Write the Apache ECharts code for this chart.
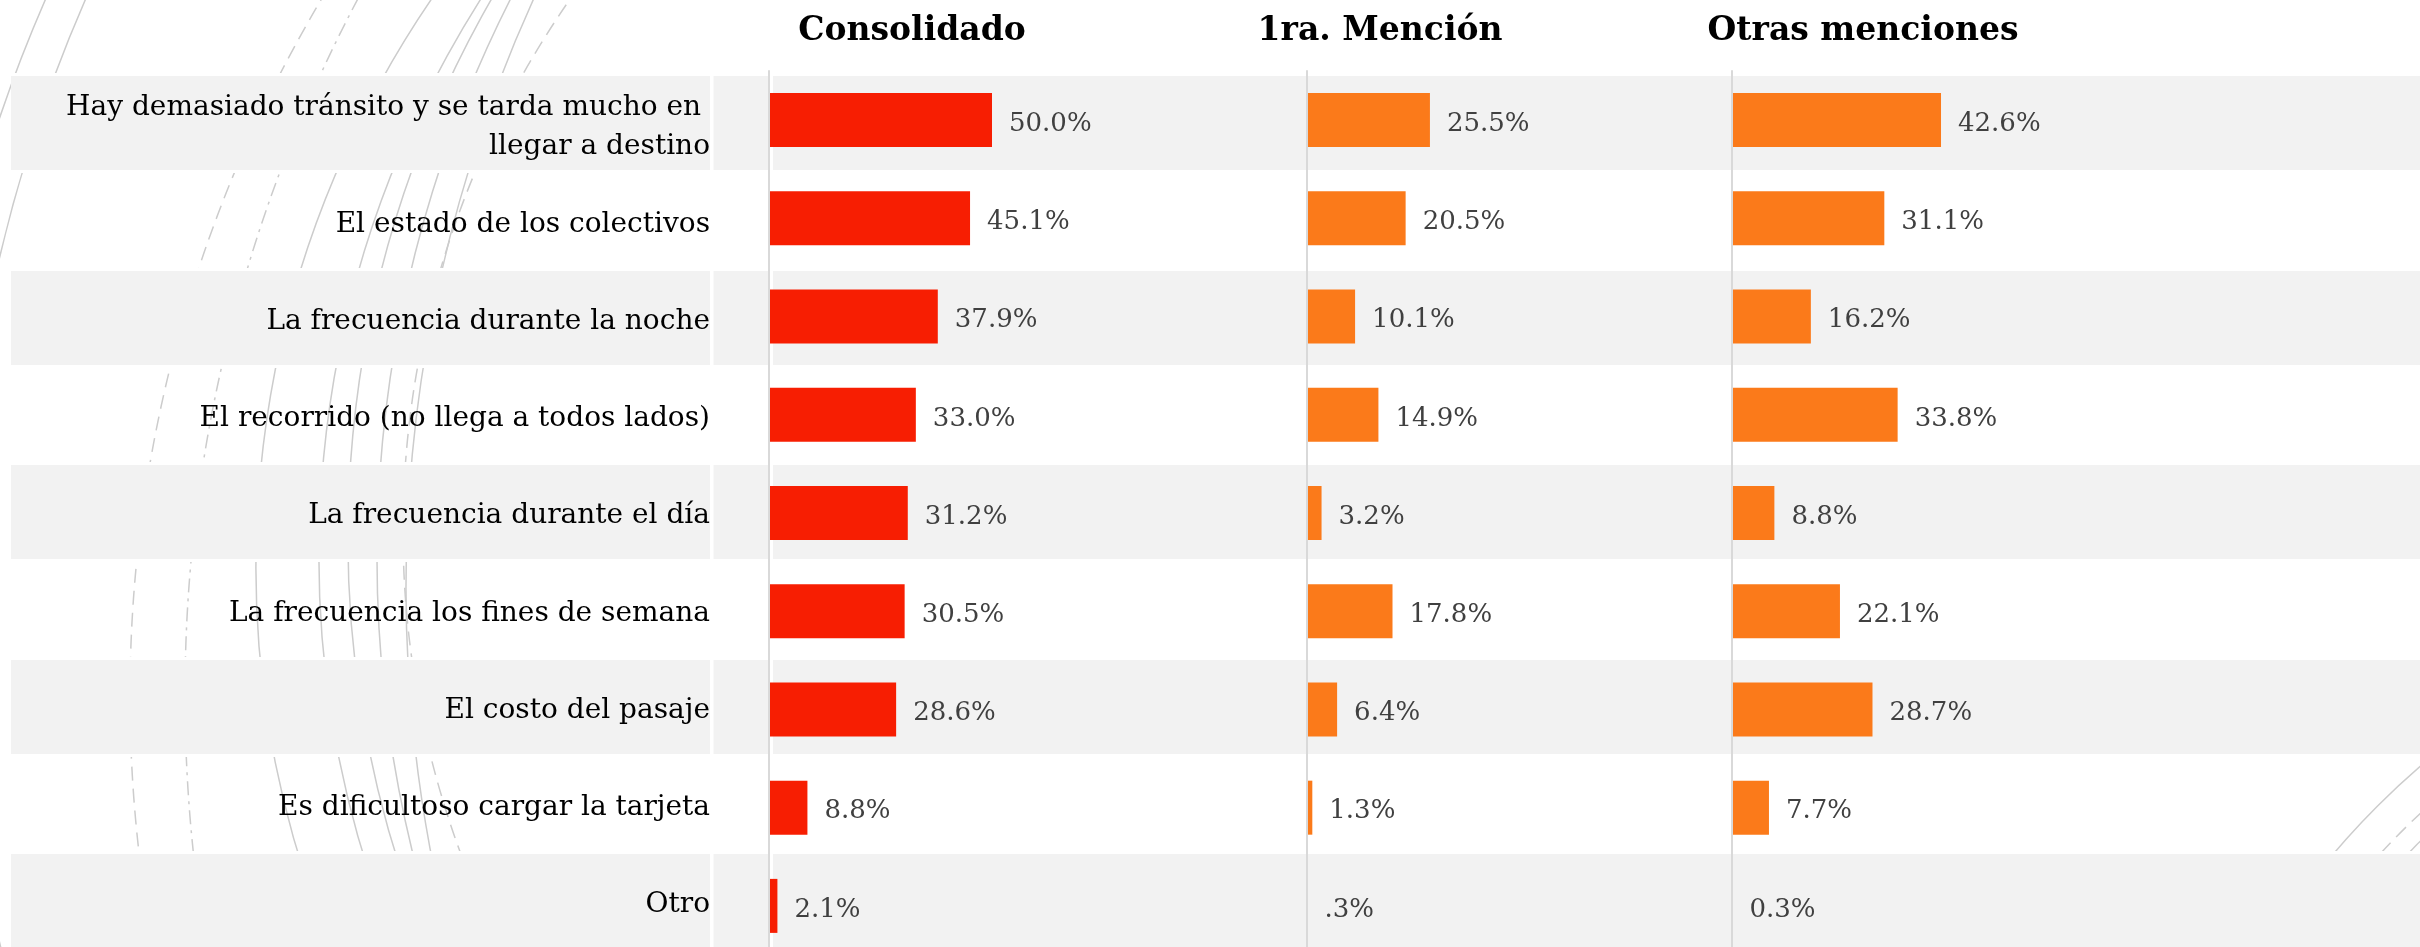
<!DOCTYPE html>
<html>
<head>
<meta charset="utf-8">
<script src="https://cdn.jsdelivr.net/npm/echarts@6/dist/echarts.min.js"></script>
<style>
  html, body { margin: 0; padding: 0; background: #fff; }
  #chart { width: 2420px; height: 947px; }
</style>
</head>
<body>
<div id="chart"></div>
<script>
  // 数据
  const categorias = [
    'Hay demasiado tránsito y se tarda mucho en llegar a destino',
    'El estado de los colectivos',
    'La frecuencia durante la noche',
    'El recorrido (no llega a todos lados)',
    'La frecuencia durante el día',
    'La frecuencia los fines de semana',
    'El costo del pasaje',
    'Es dificultoso cargar la tarjeta',
    'Otro'
  ]
  const consolidado = [50.0, 45.1, 37.9, 33.0, 31.2, 30.5, 28.6, 8.8, 2.1]
  const primeraMencion = [25.5, 20.5, 10.1, 14.9, 3.2, 17.8, 6.4, 1.3, 0.3]
  const otrasMenciones = [42.6, 31.1, 16.2, 33.8, 8.8, 22.1, 28.7, 7.7, 0.3]
  const titulos = ['Consolidado', '1ra. Mención', 'Otras menciones']
  // la etiqueta de "Otro" en 1ra. Mención aparece sin el cero
  const textosEspeciales = [{}, { 8: '.3%' }, {}]

  const fuente = "'DejaVu Serif', serif"
  const chart = echarts.init(document.getElementById('chart'))

  // cada panel: posición del eje y color
  const paneles = [
    { left: 768, width: 448, color: '#f71e02', data: consolidado, tituloX: 912 },
    { left: 1306, width: 486, color: '#fb7a1a', data: primeraMencion, tituloX: 1380 },
    { left: 1731, width: 493, color: '#fb7a1a', data: otrasMenciones, tituloX: 1863 }
  ]

  // arcos decorativos del fondo
  const arcos = [
    { cx: 1494, cy: 696, r: 1364, dash: [14, 8] },
    { cx: 1673, cy: 695, r: 1488, dash: [14, 6, 3, 6] },
    { cx: 1259, cy: 566, r: 1003 },
    { cx: 1355, cy: 555, r: 1036 },
    { cx: 1428, cy: 537, r: 1080 },
    { cx: 1614, cy: 558, r: 1237 },
    { cx: 1829, cy: 588, r: 1423 },
    { cx: 1333, cy: 531, r: 930, dash: [14, 8] },
    { cx: 1460, cy: 600, r: 1500 },
    { cx: 1420, cy: 600, r: 1500 }
  ]
  const arcosDerecha = [
    { cx: 2943, cy: 1372, r: 800 },
    { cx: 2943, cy: 1372, r: 765, dash: [14, 8] },
    { cx: 2943, cy: 1372, r: 745 }
  ]

  const graficos = []
  arcos.forEach((a) => {
    graficos.push({
      type: 'arc',
      z: -1,
      silent: true,
      shape: { cx: a.cx, cy: a.cy, r: a.r, startAngle: Math.PI * 0.78, endAngle: Math.PI * 1.4 },
      style: { stroke: '#cccccc', fill: 'none', lineWidth: 1.5, lineDash: a.dash || null }
    })
  })
  arcosDerecha.forEach((a) => {
    graficos.push({
      type: 'arc',
      z: -1,
      silent: true,
      shape: { cx: a.cx, cy: a.cy, r: a.r, startAngle: Math.PI * 1.1, endAngle: Math.PI * 1.4 },
      style: { stroke: '#cccccc', fill: 'none', lineWidth: 1.5, lineDash: a.dash || null }
    })
  })
  // pequeñas separaciones blancas de la tabla
  graficos.push(
    { type: 'rect', z: 1, silent: true, shape: { x: 710, y: 70, width: 3.5, height: 890 }, style: { fill: '#fff' } },
    { type: 'rect', z: 1, silent: true, shape: { x: 768, y: 70, width: 5, height: 890 }, style: { fill: '#fff' } }
  )
  // títulos
  paneles.forEach((p, i) => {
    graficos.push({
      type: 'text',
      x: p.tituloX,
      y: 31,
      style: {
        text: titulos[i],
        font: 'bold 33px ' + fuente,
        textAlign: 'center',
        textVerticalAlign: 'middle',
        fill: '#000'
      }
    })
  })

  const options = {
    animation: false,
    graphic: { elements: graficos },
    // grid 0: bandas de fondo; 1-3: paneles; 4: textos de categorías
    grid: [
      { left: 11, right: 0, top: 74.5, bottom: -2.5, outerBoundsMode: 'none' },
      ...paneles.map((p) => ({ left: p.left, width: p.width, top: 71, bottom: -8, outerBoundsMode: 'none' })),
      { left: 768, width: 10, top: 78.5, bottom: -6.5, outerBoundsMode: 'none' }
    ],
    xAxis: [
      { gridIndex: 0, type: 'value', show: false },
      ...paneles.map((p, i) => ({ gridIndex: i + 1, type: 'value', min: 0, max: 100, show: false })),
      { gridIndex: 4, type: 'value', show: false }
    ],
    yAxis: [
      {
        gridIndex: 0,
        type: 'category',
        data: categorias,
        inverse: true,
        axisLine: { show: false },
        axisTick: { show: false },
        axisLabel: { show: false },
        splitArea: { show: true, interval: 0, areaStyle: { color: ['#f2f2f2', 'rgba(255,255,255,0)'] } },
        splitLine: { show: true, interval: 0, lineStyle: { color: '#ffffff', width: 3 } }
      },
      ...paneles.map((p, i) => ({
        gridIndex: i + 1,
        type: 'category',
        data: categorias,
        inverse: true,
        z: 3,
        offset: -0.75,
        axisLine: { show: true, lineStyle: { color: '#d9d9d9', width: 2 } },
        axisTick: { show: false },
        axisLabel: { show: false }
      })),
      {
        gridIndex: 4,
        type: 'category',
        data: categorias,
        inverse: true,
        axisLine: { show: false },
        axisTick: { show: false },
        axisLabel: {
          interval: 0,
          margin: 58,
          fontFamily: fuente,
          fontSize: 28,
          color: '#000',
          width: 680,
          overflow: 'break',
          lineHeight: 39
        }
      }
    ],
    series: paneles.map((p, i) => ({
      type: 'bar',
      xAxisIndex: i + 1,
      yAxisIndex: i + 1,
      barWidth: 54,
      itemStyle: { color: p.color },
      label: {
        show: true,
        position: 'right',
        distance: 17,
        offset: [0, 4],
        fontFamily: fuente,
        fontSize: 26,
        color: '#404040',
        formatter: (d) => textosEspeciales[i][d.dataIndex] || d.value.toFixed(1) + '%'
      },
      data: p.data
    }))
  }

  chart.setOption(options)
</script>
</body>
</html>
